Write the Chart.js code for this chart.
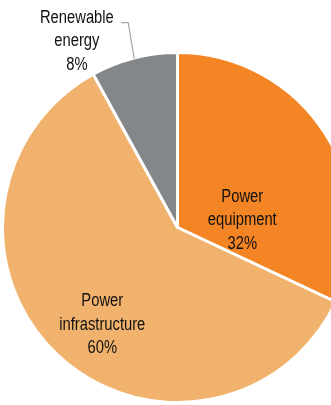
<!DOCTYPE html>
<html>
<head>
<meta charset="utf-8">
<script src="https://cdn.jsdelivr.net/npm/chart.js@4/dist/chart.umd.min.js"></script>
<style>
    html, body { margin: 0; padding: 0; background: #fff; overflow: hidden; }
    #wrap { position: absolute; left: 0; top: 0; width: 357px; height: 405px; }
</style>
</head>
<body>
<div id="wrap"><canvas id="pie-chart"></canvas></div>
<script>
// Segment names (one entry per text line) and their shares in percent
const segments = [['Power', 'equipment'], ['Power', 'infrastructure'], ['Renewable', 'energy']];
const shares = [32, 60, 8];
const sliceColors = ['#f48525', '#f0b26c', '#84878a'];

// Where each label sits, in units of the pie radius from its centre
const labelSpots = [
    { dx: 0.37, dy: -0.04 },
    { dx: -0.43, dy: 0.555 },
    { dx: -0.575, dy: -1.065, leader: true }
];

// pick a narrow face if there is one, else squeeze the regular one
function narrowFont(ctx) {
    ctx.font = '18px monospace';
    const base = ctx.measureText('Power equipment').width;
    ctx.font = '18px "Liberation Sans Narrow", monospace';
    const w = ctx.measureText('Power equipment').width;
    if (Math.abs(w - base) > 0.5) return { font: '18px "Liberation Sans Narrow"', squeeze: 1 };
    return { font: '18px "Liberation Sans", Arial, sans-serif', squeeze: 0.82 };
}

// Labels drawn over / beside the slices
const sliceLabels = {
    id: 'sliceLabels',
    afterDatasetsDraw(chart) {
        const ctx = chart.ctx;
        const arcs = chart.getDatasetMeta(0).data;
        ctx.save();
        const f = narrowFont(ctx);
        ctx.font = f.font;
        ctx.fillStyle = '#111';
        ctx.textAlign = 'center';
        ctx.textBaseline = 'middle';
        arcs.forEach((arc, i) => {
            const r = arc.outerRadius;
            const spot = labelSpots[i];
            const cx = arc.x + spot.dx * r;
            const cy = arc.y + spot.dy * r;
            const lines = segments[i].concat(shares[i] + '%');
            const lh = 23.5;
            lines.forEach((t, j) => {
                const y = cy + (j - (lines.length - 1) / 2) * lh;
                ctx.save();
                ctx.translate(cx, y);
                ctx.scale(f.squeeze, 1);
                ctx.fillText(t, 0, 0);
                ctx.restore();
            });
            if (spot.leader) {
                // leader from the slice's outer edge up to the label
                const mid = (arc.startAngle + arc.endAngle) / 2;
                const ex = arc.x + Math.cos(mid) * (r - 1);
                const ey = arc.y + Math.sin(mid) * (r - 1);
                const topY = cy - lh + 5;
                ctx.strokeStyle = '#a6a6a6';
                ctx.lineWidth = 1.2;
                ctx.beginPath();
                ctx.moveTo(ex, ey);
                ctx.lineTo(ex - 6, topY);
                ctx.lineTo(ex - 13, topY);
                ctx.stroke();
            }
        });
        ctx.restore();
    }
};

const pieChart = new Chart(document.getElementById('pie-chart'), {
    type: 'pie',
    data: {
        labels: segments.map(s => s.join(' ')),
        datasets: [{
            data: shares,
            backgroundColor: sliceColors,
            borderColor: '#ffffff',
            borderWidth: 3
        }]
    },
    options: {
        responsive: true,
        maintainAspectRatio: false,
        animation: false,
        layout: { padding: { left: 1, right: 3, top: 51, bottom: 1 } },
        plugins: {
            legend: { display: false },
            tooltip: { enabled: false }
        }
    },
    plugins: [sliceLabels]
});
</script>
</body>
</html>
